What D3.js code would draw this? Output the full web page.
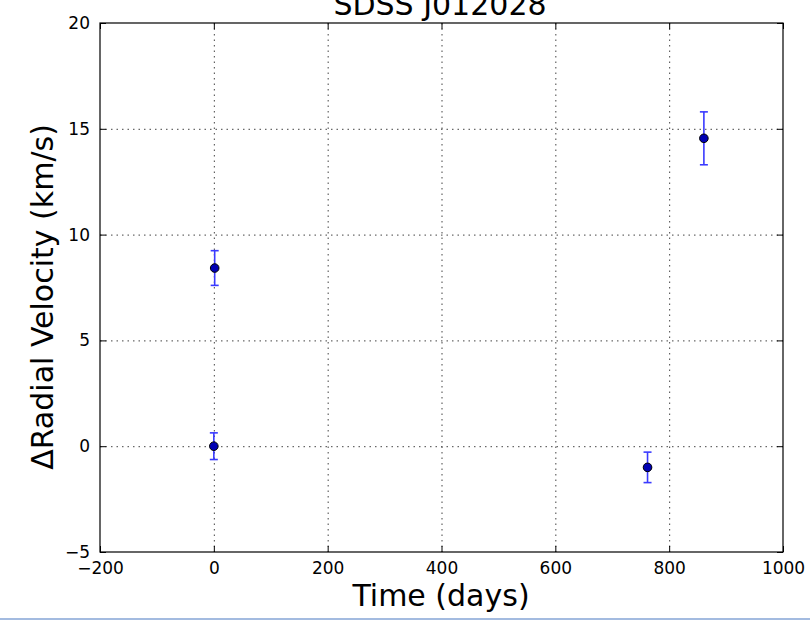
<!DOCTYPE html>
<html>
<head>
<meta charset="utf-8">
<script src="https://cdn.jsdelivr.net/npm/d3@7"></script>
<style>
  html, body { margin: 0; padding: 0; background: #fff; }
  svg { display: block; }
  text { font-family: "DejaVu Sans", sans-serif; fill: #000; }
</style>
</head>
<body>
<svg id="chart" width="810" height="620"></svg>
<script>
// Observation epochs (days) and radial velocity offsets (km/s) with 1-sigma errors
const timeDays = [1.5, 0, 762, 861];
const deltaRV = [8.42, 0.0, -1.0, 14.55];
const rvError = [0.82, 0.63, 0.72, 1.25];

const xTicks = [-200, 0, 200, 400, 600, 800, 1000];
const yTicks = [-5, 0, 5, 10, 15, 20];

const titleText = "SDSS J012028";
const xLabel = "Time (days)";
const yLabel = "\u0394Radial Velocity (km/s)";

const svg = d3.select("#chart");
const plotL = 100, plotR = 783, plotT = 23, plotB = 552;

const x = d3.scaleLinear().domain([-200, 1000]).range([plotL, plotR]);
const y = d3.scaleLinear().domain([-5, 20]).range([plotB, plotT]);

const fmt = d => (d < 0 ? "\u2212" + Math.abs(d) : String(d));

// dotted grid
const grid = svg.append("g");
grid.selectAll("line.gx").data(xTicks.slice(1, -1)).join("line")
  .attr("x1", d => x(d) + 0.5).attr("x2", d => x(d) + 0.5)
  .attr("y1", plotT).attr("y2", plotB)
  .attr("stroke", "#444").attr("stroke-width", 1).attr("stroke-dasharray", "1.5,4");
grid.selectAll("line.gy").data(yTicks.slice(1, -1)).join("line")
  .attr("y1", d => y(d) + 0.5).attr("y2", d => y(d) + 0.5)
  .attr("x1", plotL).attr("x2", plotR)
  .attr("stroke", "#444").attr("stroke-width", 1).attr("stroke-dasharray", "1.5,4");

// inward ticks on all four sides, labels on bottom and left
const tickLen = 6;
const xAxisB = d3.axisBottom(x).tickValues(xTicks).tickSize(-tickLen).tickPadding(10).tickFormat(fmt);
const xAxisT = d3.axisTop(x).tickValues(xTicks).tickSize(-tickLen).tickFormat("");
const yAxisL = d3.axisLeft(y).tickValues(yTicks).tickSize(-tickLen).tickPadding(10).tickFormat(fmt);
const yAxisR = d3.axisRight(y).tickValues(yTicks).tickSize(-tickLen).tickFormat("");

function styleAxis(g) {
  g.select(".domain").remove();
  g.selectAll(".tick line").attr("stroke", "#000").attr("stroke-width", 1);
  g.selectAll(".tick text").attr("font-size", 17).attr("font-family", "DejaVu Sans").attr("fill", "#000");
}
svg.append("g").attr("transform", `translate(0,${plotB})`).call(xAxisB).call(styleAxis);
svg.append("g").attr("transform", `translate(0,${plotT})`).call(xAxisT).call(styleAxis);
svg.append("g").attr("transform", `translate(${plotL},0)`).call(yAxisL).call(styleAxis);
svg.append("g").attr("transform", `translate(${plotR},0)`).call(yAxisR).call(styleAxis);

// frame
svg.append("rect")
  .attr("x", plotL).attr("y", plotT)
  .attr("width", plotR - plotL).attr("height", plotB - plotT)
  .attr("fill", "none").attr("stroke", "#000").attr("stroke-width", 1.2);

// error bars
const pts = timeDays.map((t, i) => ({ t, v: deltaRV[i], e: rvError[i] }));
const eb = svg.append("g").attr("stroke", "#3a3aff").attr("stroke-width", 1.6);
eb.selectAll("line.bar").data(pts).join("line")
  .attr("x1", d => x(d.t)).attr("x2", d => x(d.t))
  .attr("y1", d => y(d.v + d.e)).attr("y2", d => y(d.v - d.e));
eb.selectAll("line.capHi").data(pts).join("line")
  .attr("x1", d => x(d.t) - 4).attr("x2", d => x(d.t) + 4)
  .attr("y1", d => y(d.v + d.e)).attr("y2", d => y(d.v + d.e));
eb.selectAll("line.capLo").data(pts).join("line")
  .attr("x1", d => x(d.t) - 4).attr("x2", d => x(d.t) + 4)
  .attr("y1", d => y(d.v - d.e)).attr("y2", d => y(d.v - d.e));

// markers
svg.append("g").selectAll("circle").data(pts).join("circle")
  .attr("cx", d => x(d.t)).attr("cy", d => y(d.v)).attr("r", 4.3)
  .attr("fill", "#0000b4").attr("stroke", "#000").attr("stroke-width", 1);

// title (runs up to the top edge) and axis labels
svg.append("text").attr("x", 440).attr("y", 15).attr("text-anchor", "middle")
  .attr("font-size", 30).text(titleText);
svg.append("text").attr("x", 441).attr("y", 606).attr("text-anchor", "middle")
  .attr("font-size", 30).text(xLabel);
svg.append("text").attr("transform", "translate(53,297) rotate(-90)").attr("text-anchor", "middle")
  .attr("font-size", 30).text(yLabel);

// thin band along the bottom edge
svg.append("rect").attr("x", 0).attr("y", 618).attr("width", 810).attr("height", 2).attr("fill", "#a3bbe0");
</script>
</body>
</html>
